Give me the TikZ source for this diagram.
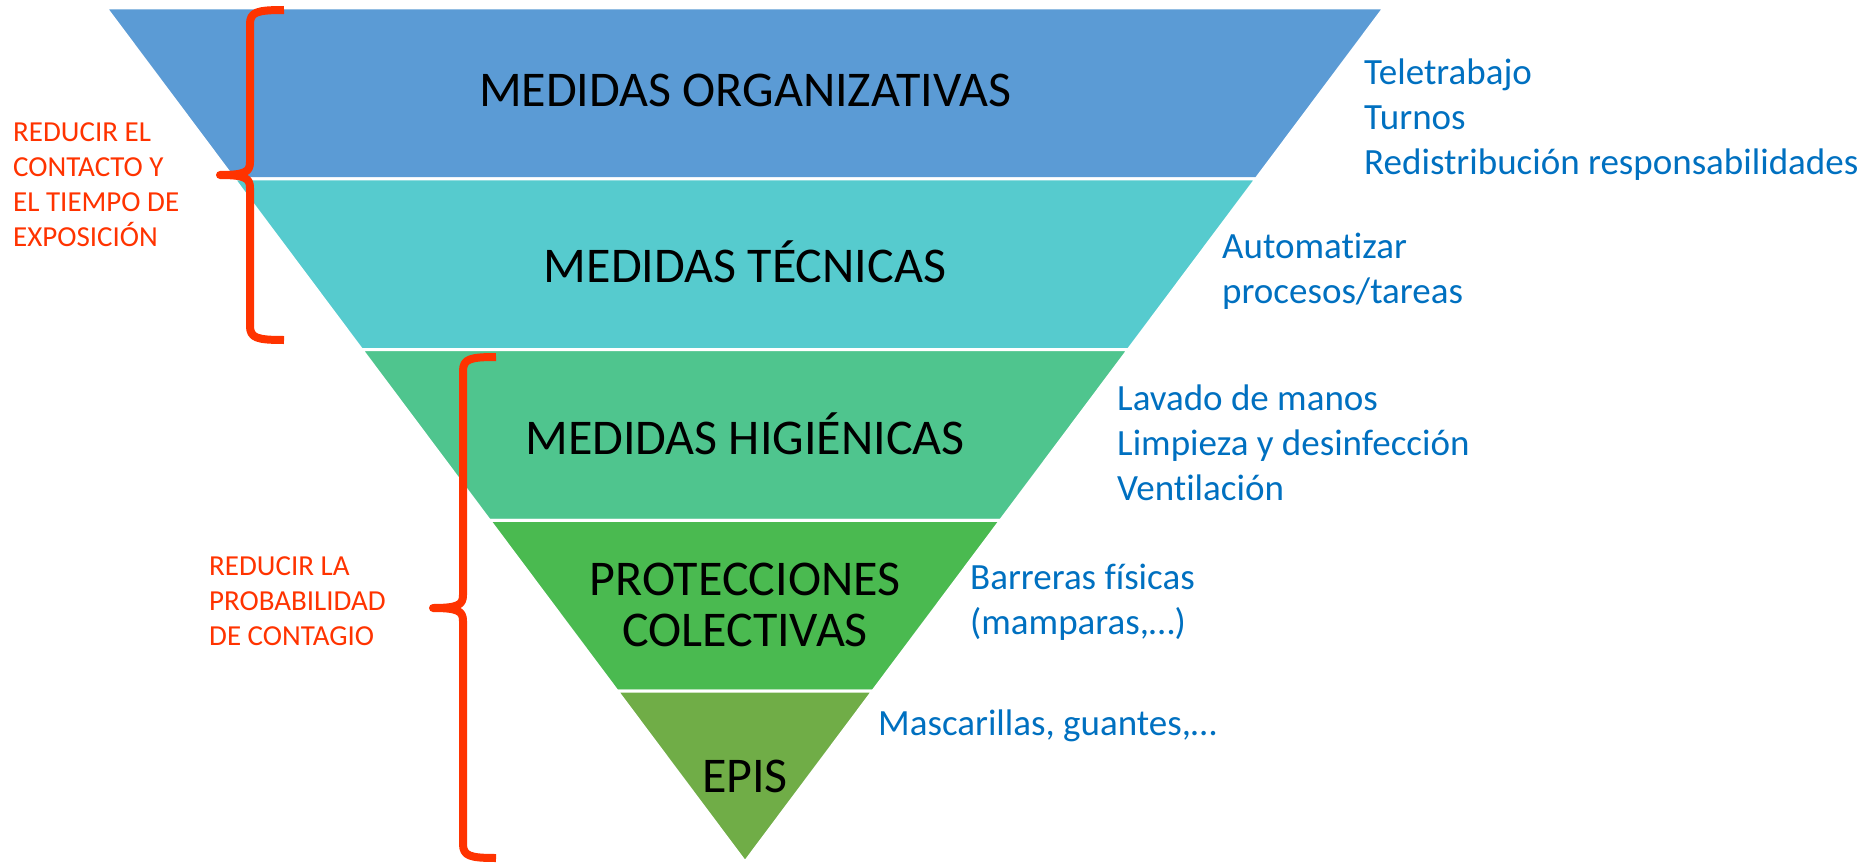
\documentclass[tikz,border=0pt]{standalone}
\usepackage{fontspec}
\setmainfont{Carlito}[Ligatures=NoCommon]
\usetikzlibrary{calc}
\definecolor{bandA}{HTML}{5B9BD5}
\definecolor{bandB}{HTML}{56CBCE}
\definecolor{bandC}{HTML}{4FC58E}
\definecolor{bandD}{HTML}{4ABA50}
\definecolor{bandE}{HTML}{70AD47}
\definecolor{notecol}{HTML}{0070C0}
\definecolor{warncol}{HTML}{FF3300}
\begin{document}
\begin{tikzpicture}[x=1pt,y=-1pt,
  band/.style={draw=white,line width=3pt,line join=miter},
  title/.style={font=\fontsize{50}{51}\selectfont,align=center,text=black,inner sep=0pt},
  note/.style={font=\fontsize{37}{45}\selectfont,align=left,anchor=west,text=notecol,inner sep=0pt},
  warnlbl/.style={font=\fontsize{29}{35}\selectfont,align=left,anchor=west,text=warncol,inner sep=0pt},
  bracecurve/.style={draw=warncol,line width=8pt,line join=round}]
\useasboundingbox (0,0) rectangle (1866,867);
\coordinate (TL) at (106,8);
\coordinate (TR) at (1384,8);
\coordinate (B) at (745,862);
% bands
\fill[bandA,band] (TL) -- (TR) -- ($(TR)!0.2!(B)$) -- ($(TL)!0.2!(B)$) -- cycle;
\fill[bandB,band] ($(TL)!0.2!(B)$) -- ($(TR)!0.2!(B)$) -- ($(TR)!0.4!(B)$) -- ($(TL)!0.4!(B)$) -- cycle;
\fill[bandC,band] ($(TL)!0.4!(B)$) -- ($(TR)!0.4!(B)$) -- ($(TR)!0.6!(B)$) -- ($(TL)!0.6!(B)$) -- cycle;
\fill[bandD,band] ($(TL)!0.6!(B)$) -- ($(TR)!0.6!(B)$) -- ($(TR)!0.8!(B)$) -- ($(TL)!0.8!(B)$) -- cycle;
\fill[bandE,band] ($(TL)!0.8!(B)$) -- ($(TR)!0.8!(B)$) -- (B) -- cycle;
% titles
\node[title] (t1) at (745,90) {MEDIDAS ORGANIZATIVAS};
\node[title] (t2) at (745,262) {MEDIDAS TÉCNICAS};
\node[title] (t3) at (745,434) {MEDIDAS HIGIÉNICAS};
\node[title] (t4) at (745,605) {PROTECCIONES\\COLECTIVAS};
\node[title] (t5) at (745,776) {EPIS};
% notes
\node[note] (n1) at (1364,120) {Teletrabajo\\Turnos\\Redistribución responsabilidades};
\node[note] (n2) at (1222,271) {Automatizar\\procesos/tareas};
\node[note] (n3) at (1117,443) {Lavado de manos\\Limpieza y desinfección\\Ventilación};
\node[note] (n4) at (970,602) {Barreras físicas\\(mamparas,…)};
\node[note] (n5) at (878,726) {Mascarillas, guantes,…};
% left labels
\node[warnlbl] (w1) at (13,185) {REDUCIR EL\\CONTACTO Y\\EL TIEMPO DE\\EXPOSICIÓN};
\node[warnlbl] (w2) at (209,601) {REDUCIR LA\\PROBABILIDAD\\DE CONTAGIO};
% braces
\draw[bracecurve] (284,10) .. controls (257,10) and (250,12) .. (250,24) -- (250,162)
  .. controls (250,172) and (245,175) .. (220,175)
  .. controls (245,175) and (250,178) .. (250,188) -- (250,326)
  .. controls (250,338) and (257,340) .. (284,340);
\draw[bracecurve] (496,357) .. controls (470,357) and (463,359) .. (463,371) -- (463,595)
  .. controls (463,605) and (458,608) .. (433,608)
  .. controls (458,608) and (463,611) .. (463,621) -- (463,844)
  .. controls (463,856) and (470,858) .. (496,858);
\end{tikzpicture}
\end{document}
